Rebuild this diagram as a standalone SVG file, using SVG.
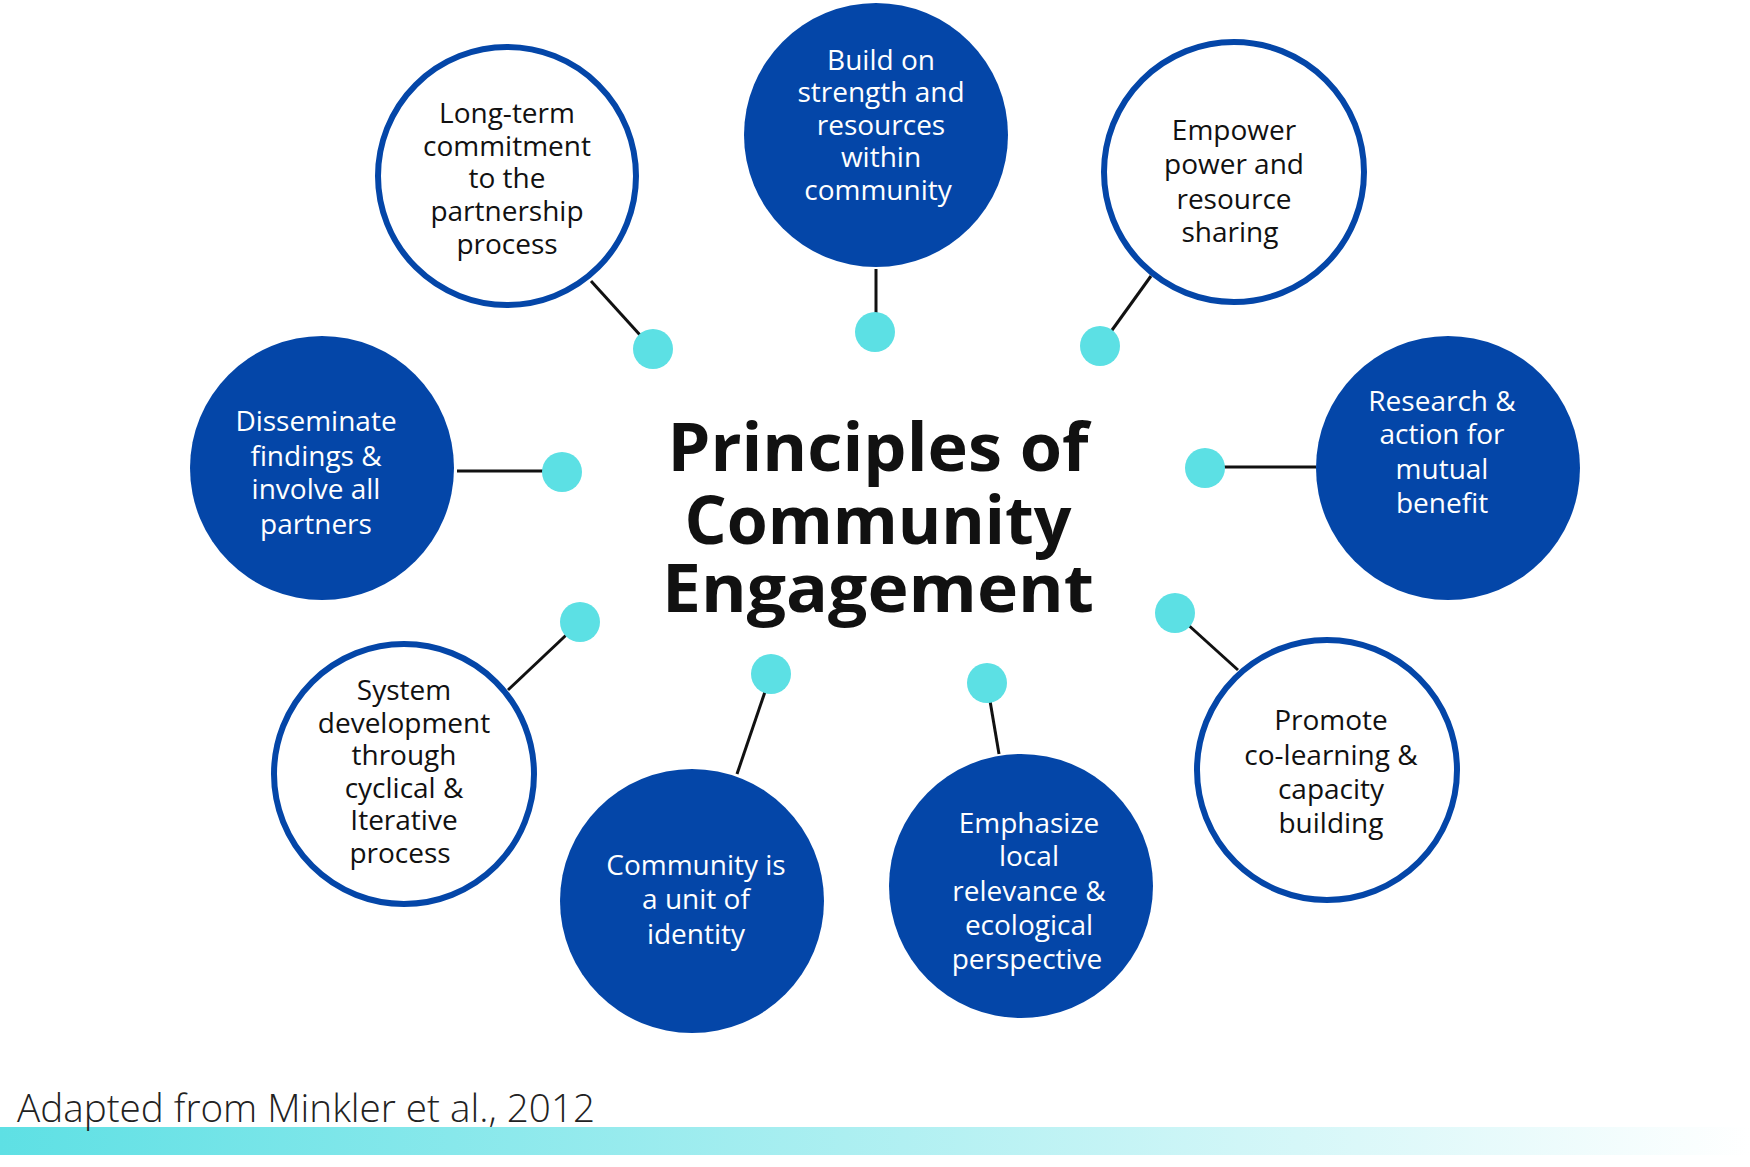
<svg xmlns="http://www.w3.org/2000/svg" width="1750" height="1167" viewBox="0 0 1750 1167">
<style>
.f{fill:#0446a8}.o{fill:#fff;stroke:#0446a8;stroke-width:6}
.t{font-family:"Open Sans","Noto Sans",sans-serif;font-size:28px;text-anchor:middle}
.w{fill:#fff}.k{fill:#111}
.d{fill:#5ce0e4}
#connectors line{stroke:#111;stroke-width:3}
.ti{font-family:"Open Sans","Noto Sans",sans-serif;font-weight:700;font-size:66px;text-anchor:middle;fill:#111}
</style>
<defs><linearGradient id="g" x1="0" x2="1"><stop offset="0" stop-color="#5ee0e4"/><stop offset="1" stop-color="#fff"/></linearGradient></defs>
<rect width="1750" height="1167" fill="#fff"/>
<g id="connectors">
<line x1="591" y1="281" x2="650" y2="346"/><line x1="876" y1="269" x2="876" y2="330"/>
<line x1="1151" y1="276" x2="1102" y2="344"/><line x1="1205" y1="467" x2="1316" y2="467"/>
<line x1="1175" y1="613" x2="1238" y2="670"/><line x1="987" y1="683" x2="999" y2="754"/>
<line x1="771" y1="674" x2="737" y2="774"/><line x1="580" y1="622" x2="508" y2="690"/>
<line x1="457" y1="471" x2="562" y2="471"/>
</g>
<g id="dots">
<circle class="d" cx="653" cy="349" r="20"/><circle class="d" cx="875" cy="332" r="20"/>
<circle class="d" cx="1100" cy="346" r="20"/><circle class="d" cx="1205" cy="468" r="20"/>
<circle class="d" cx="1175" cy="613" r="20"/><circle class="d" cx="987" cy="683" r="20"/>
<circle class="d" cx="771" cy="674" r="20"/><circle class="d" cx="580" cy="622" r="20"/>
<circle class="d" cx="562" cy="472" r="20"/>
</g>
<g id="n1"><circle class="o" cx="507" cy="176" r="129"/><text class="t k" x="507"><tspan x="507" y="123">Long-term</tspan><tspan x="507" y="156">commitment</tspan><tspan x="507" y="188">to the</tspan><tspan x="507" y="221">partnership</tspan><tspan x="507" y="254">process</tspan></text></g>
<g id="n2"><circle class="f" cx="876" cy="135" r="132"/><text class="t w"><tspan x="881" y="70">Build on</tspan><tspan x="881" y="102">strength and</tspan><tspan x="881" y="135">resources</tspan><tspan x="881" y="167">within</tspan><tspan x="878" y="200">community</tspan></text></g>
<g id="n3"><circle class="o" cx="1234" cy="172" r="130"/><text class="t k"><tspan x="1234" y="140">Empower</tspan><tspan x="1234" y="174">power and</tspan><tspan x="1234" y="209">resource</tspan><tspan x="1230" y="242">sharing</tspan></text></g>
<g id="n4"><circle class="f" cx="1448" cy="468" r="132"/><text class="t w"><tspan x="1442" y="411">Research &amp;</tspan><tspan x="1442" y="444">action for</tspan><tspan x="1442" y="479">mutual</tspan><tspan x="1442" y="513">benefit</tspan></text></g>
<g id="n5"><circle class="o" cx="1327" cy="770" r="130"/><text class="t k"><tspan x="1331" y="730">Promote</tspan><tspan x="1331" y="765">co-learning &amp;</tspan><tspan x="1331" y="799">capacity</tspan><tspan x="1331" y="833">building</tspan></text></g>
<g id="n6"><circle class="f" cx="1021" cy="886" r="132"/><text class="t w"><tspan x="1029" y="833">Emphasize</tspan><tspan x="1029" y="866">local</tspan><tspan x="1029" y="901">relevance &amp;</tspan><tspan x="1029" y="935">ecological</tspan><tspan x="1027" y="969">perspective</tspan></text></g>
<g id="n7"><circle class="f" cx="692" cy="901" r="132"/><text class="t w"><tspan x="696" y="875">Community is</tspan><tspan x="696" y="909">a unit of</tspan><tspan x="696" y="944">identity</tspan></text></g>
<g id="n8"><circle class="o" cx="404" cy="774" r="130"/><text class="t k"><tspan x="404" y="700">System</tspan><tspan x="404" y="733">development</tspan><tspan x="404" y="765">through</tspan><tspan x="404" y="798">cyclical &amp;</tspan><tspan x="404" y="830">Iterative</tspan><tspan x="400" y="863">process</tspan></text></g>
<g id="n9"><circle class="f" cx="322" cy="468" r="132"/><text class="t w"><tspan x="316" y="431">Disseminate</tspan><tspan x="316" y="466">findings &amp;</tspan><tspan x="316" y="499">involve all</tspan><tspan x="316" y="534">partners</tspan></text></g>
<g id="title"><text class="ti"><tspan x="878" y="471" textLength="421" lengthAdjust="spacingAndGlyphs">Principles of</tspan></text><text class="ti" x="878" y="544" textLength="387" lengthAdjust="spacingAndGlyphs">Community</text><text class="ti" x="878" y="612" textLength="432" lengthAdjust="spacingAndGlyphs">Engagement</text></g>
<rect x="0" y="1127" width="1750" height="28" fill="url(#g)"/>
<text x="17" y="1122" font-family="Open Sans,sans-serif" font-weight="300" font-size="38" fill="#222" textLength="578" lengthAdjust="spacingAndGlyphs">Adapted from Minkler et al., 2012</text>
</svg>
